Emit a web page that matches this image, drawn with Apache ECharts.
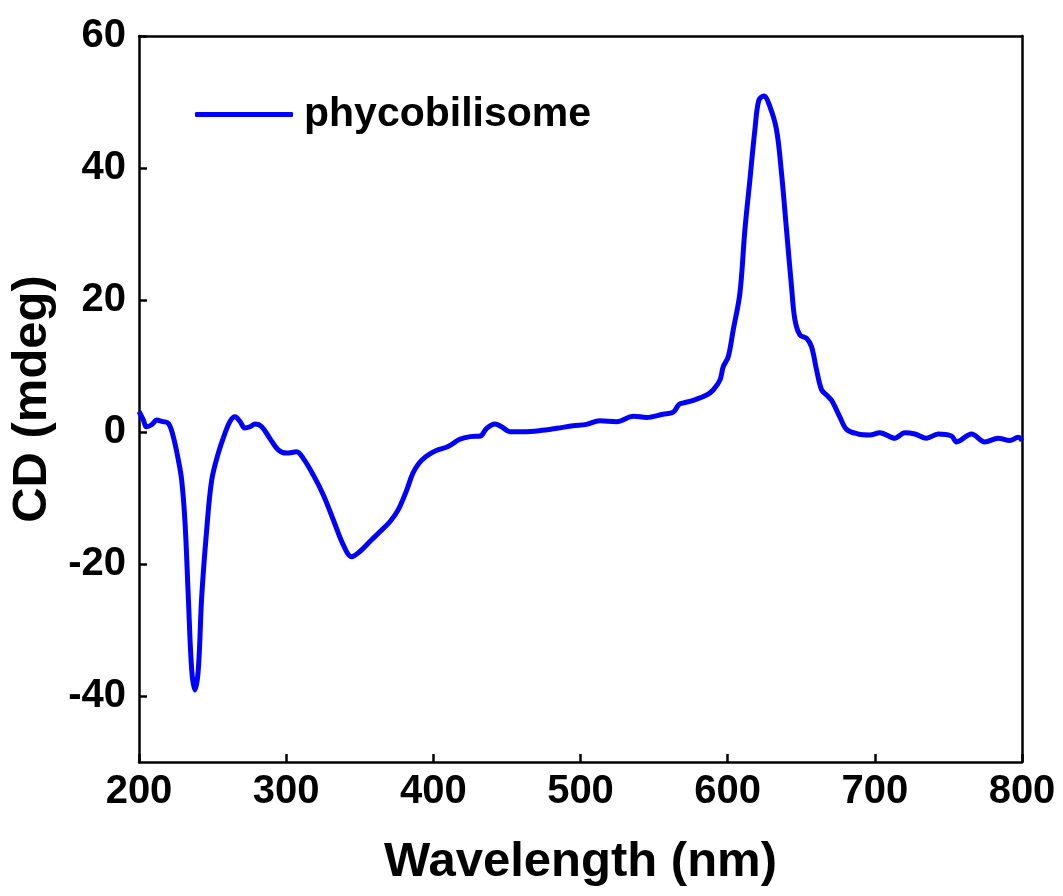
<!DOCTYPE html>
<html>
<head>
<meta charset="utf-8">
<script src="https://cdn.jsdelivr.net/npm/echarts@6/dist/echarts.min.js"></script>
<style>
html,body{margin:0;padding:0;background:#fff;}
#chart{width:1063px;height:896px;}
</style>
</head>
<body>
<div id="chart"></div>
<script>
const seriesName = 'phycobilisome';
const wavelength = [200,203,205,208.6,212,215.4,220,223.3,226.7,229,231.3,233.5,235.8,238,240.3,242.6,246,249.4,253.9,258.4,261.8,265.2,268.6,272,275.4,278.8,283.4,289,294.6,300.3,307.1,311.6,318.4,325.2,332,338.8,344.5,350.1,356.9,363.7,370.5,376.1,381.9,386,390,395,402,410,418,425,432,436,441.8,446.4,452,461,472,484,495,504,513,524.5,536,545,556,563,567,570,576.6,585.7,590.3,594.8,597,600.4,603.8,608.3,611.7,615.1,618.5,621.2,624.6,628.7,633.2,636.6,640,643.4,645.7,649.1,653.6,657,660.4,663.8,667.2,670.6,676.2,680.8,688.7,696.6,703.4,713.6,720.4,727.2,735.1,743,752.1,755.5,765.7,774.7,783.8,791.7,797.4,800];
const cd = [3.1,1.8,0.8,1.1,1.8,1.6,1.3,-0.7,-4.2,-7.3,-13.8,-25,-36,-39.1,-36,-25,-14.8,-7.3,-3.2,-0.2,1.6,2.3,1.6,0.6,0.8,1.2,0.8,-1,-2.7,-3.2,-3.0,-4,-6.5,-9.5,-13.3,-17.1,-18.9,-18.1,-16.6,-15.1,-13.6,-11.8,-8.8,-6.3,-4.8,-3.7,-2.8,-2.2,-1.1,-0.7,-0.6,0.5,1.2,0.8,0.05,0.05,0.2,0.56,0.95,1.16,1.7,1.56,2.4,2.2,2.7,3.0,4.2,4.4,4.8,5.6,6.4,7.9,9.9,11.4,15.5,21,30.6,38.2,45.8,50.3,50.9,49.3,45.8,39.2,30.6,22,17,14.7,14.2,12.9,9.4,6.4,5.6,4.8,2.3,0.4,-0.3,-0.45,-0.1,-0.95,-0.1,-0.3,-0.95,-0.3,-0.6,-1.5,-0.3,-1.5,-0.95,-1.3,-0.8,-1.3];
const yTicks = [-40,-20,0,20,40,60];
const xTicks = [200,300,400,500,600,700,800];

const points = wavelength.map((w,i)=>[w,cd[i]]);
const FONT = 'Liberation Sans, Arial, sans-serif';
const chart = echarts.init(document.getElementById('chart'));
chart.setOption({
  animation:false,
  backgroundColor:'#fff',
  grid:{left:139,right:41,top:36,bottom:134,containLabel:false},
  legend:{
    data:[{name:seriesName,icon:'roundRect'}],
    left:190, top:89,
    itemWidth:98, itemHeight:5,
    textStyle:{fontFamily:FONT,fontWeight:'bold',fontSize:41,color:'#000',padding:[0,0,0,6]}
  },
  xAxis:[{
    type:'value', min:200, max:800, interval:100,
    name:'Wavelength (nm)', nameLocation:'middle', nameGap:76,
    nameTextStyle:{fontFamily:FONT,fontWeight:'bold',fontSize:49,color:'#000'},
    axisLine:{show:true,onZero:false,lineStyle:{color:'#000',width:2.5}},
    axisTick:{show:true,inside:true,length:8,lineStyle:{color:'#000',width:2.5},customValues:xTicks},
    axisLabel:{margin:10,fontFamily:FONT,fontWeight:'bold',fontSize:40,color:'#000',customValues:xTicks},
    splitLine:{show:false}
  },{
    type:'value', position:'top', min:200, max:800,
    axisLine:{show:true,onZero:false,lineStyle:{color:'#000',width:2.5}},
    axisTick:{show:false}, axisLabel:{show:false}, splitLine:{show:false}
  }],
  yAxis:[{
    type:'value', min:-50, max:60,
    name:'CD (mdeg)', nameLocation:'middle', nameGap:71,
    nameTextStyle:{fontFamily:FONT,fontWeight:'bold',fontSize:49,color:'#000'},
    axisLine:{show:true,onZero:false,lineStyle:{color:'#000',width:2.5}},
    axisTick:{show:true,inside:true,length:8,lineStyle:{color:'#000',width:2.5},customValues:yTicks},
    axisLabel:{margin:13,fontFamily:FONT,fontWeight:'bold',fontSize:40,color:'#000',customValues:yTicks},
    splitLine:{show:false}
  },{
    type:'value', position:'right', min:-50, max:60,
    axisLine:{show:true,onZero:false,lineStyle:{color:'#000',width:2.5}},
    axisTick:{show:false}, axisLabel:{show:false}, splitLine:{show:false}
  }],
  series:[{
    name:seriesName, type:'line', data:points,
    xAxisIndex:0, yAxisIndex:0,
    symbol:'none', smooth:0.35,
    lineStyle:{color:'#0000ff',width:5},
    itemStyle:{color:'#0000ff'}
  }]
});
</script>
</body>
</html>
